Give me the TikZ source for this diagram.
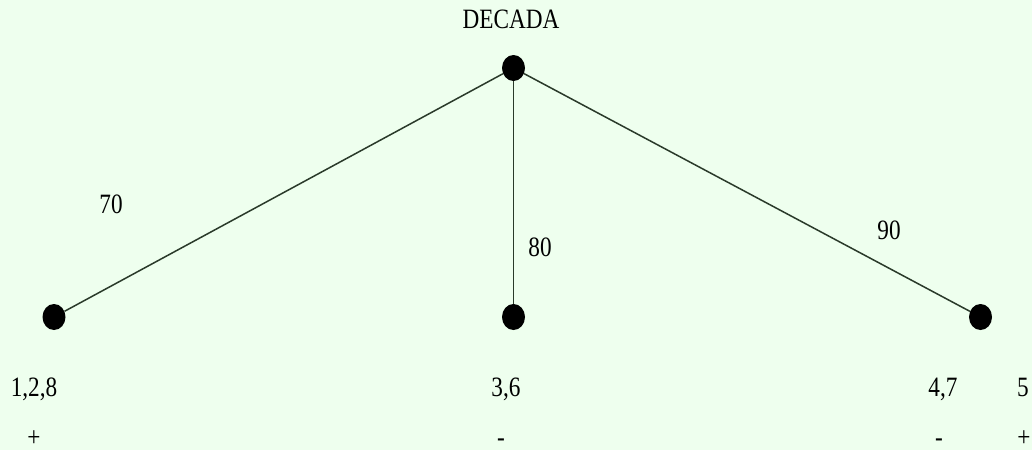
\documentclass[tikz,border=0pt]{standalone}
\usepackage{fontspec}
\setmainfont{Liberation Serif}
\usetikzlibrary{shapes.geometric}

\begin{document}
\begin{tikzpicture}[x=1pt, y=-1pt,
  dot/.style={ellipse, fill=black, inner sep=0pt, minimum width=23, minimum height=26},
  lbl/.style={anchor=base, xscale=0.83, inner sep=0pt, font=\fontsize{28}{32}\selectfont}]
  % colors
  \definecolor{bggreen}{RGB}{238,255,238}
  \definecolor{edgegray}{RGB}{42,58,42}

  % background
  \fill[bggreen] (0,0) rectangle (1032,450);

  % dots
  \node[dot] (root) at (513.5,68) {};
  \node[dot] (seventy) at (54,317) {};
  \node[dot] (eighty) at (513.5,317) {};
  \node[dot] (ninety) at (980.5,317) {};

  % edges
  \draw[line width=1.5pt, edgegray] (root) -- (seventy);
  \draw[line width=1.5pt, edgegray] (root) -- (eighty);
  \draw[line width=1.5pt, edgegray] (root) -- (ninety);

  % labels
  \node[lbl] (title) at (511,28) {DECADA};
  \node[lbl] (l70) at (111,213) {70};
  \node[lbl] (l80) at (540,256) {80};
  \node[lbl] (l90) at (889,239) {90};
  \node[lbl] (c128) at (34,396) {1,2,8};
  \node[lbl] (c36) at (506,396) {3,6};
  \node[lbl] (c47) at (943,396) {4,7};
  \node[lbl] (c5) at (1023,396) {5};
  \node[lbl] (s128) at (34,446) {+};
  \node[lbl] (s36) at (501,446) {-};
  \node[lbl] (s47) at (939,446) {-};
  \node[lbl] (s5) at (1024,446) {+};
\end{tikzpicture}
\end{document}
